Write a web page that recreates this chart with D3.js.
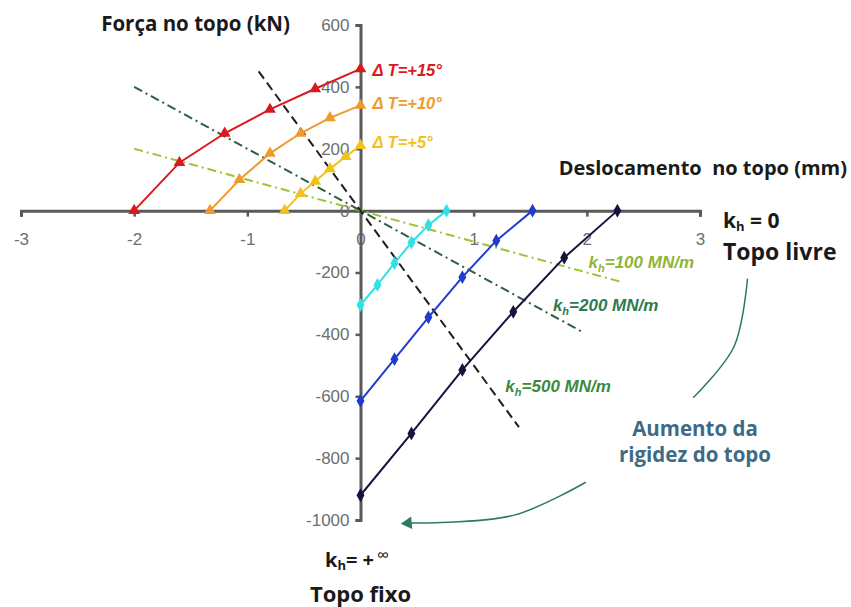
<!DOCTYPE html>
<html lang="pt">
<head>
<meta charset="UTF-8">
<title>Força no topo</title>
<script src="https://d3js.org/d3.v7.min.js"></script>
<style>
  body { margin: 0; background: #fff; }
  .tick text { font-family: "Liberation Sans", Arial, sans-serif; font-size: 17px; fill: #6e6e6e; }
  .lbl { font-family: "Open Sans", Lato, sans-serif; font-weight: bold; fill: #1a1a1a; }
</style>
</head>
<body>
<svg id="chart" width="851" height="607"></svg>
<script>
// temperature curves (displacement mm, force kN)
var dt15X = [-2, -1.6, -1.2, -0.8, -0.4, 0];
var dt15Y = [0, 155, 250, 327, 394, 458];
var dt10X = [-1.33, -1.07, -0.8, -0.53, -0.27, 0];
var dt10Y = [0, 100, 185, 250, 300, 340];
var dt5X = [-0.67, -0.53, -0.4, -0.27, -0.13, 0];
var dt5Y = [0, 55, 95, 135, 175, 210];
// top-fixed to top-free curves
var cyanX = [0, 0.15, 0.3, 0.45, 0.6, 0.76];
var cyanY = [-305, -240, -170, -103, -47, 0];
var blueX = [0, 0.3, 0.6, 0.9, 1.2, 1.52];
var blueY = [-615, -480, -345, -215, -97, 0];
var navyX = [0, 0.45, 0.9, 1.35, 1.8, 2.27];
var navyY = [-920, -720, -515, -327, -152, 0];
// spring lines: stiffness (kN/mm) and x range
var springK = [100, 200, 500];
var springFrom = [-2, -2, -0.9];
var springTo = [2.3, 1.95, 1.4];
var xTicks = [-3, -2, -1, 0, 1, 2, 3];
var yTicks = [600, 400, 200, 0, -200, -400, -600, -800, -1000];

var svg = d3.select("#chart");
var x = d3.scaleLinear().domain([-3, 3]).range([21, 700]);
var y = d3.scaleLinear().domain([-1000, 600]).range([520, 25]);

// axes
var fmt = function (d) { return String(d); };
var xAxis = svg.append("g")
    .attr("transform", "translate(0," + y(0) + ")")
    .call(d3.axisBottom(x).tickValues(xTicks).tickSize(6).tickPadding(16).tickFormat(fmt));
var yAxis = svg.append("g")
    .attr("transform", "translate(" + x(0) + ",0)")
    .call(d3.axisLeft(y).tickValues(yTicks).tickSize(5).tickPadding(6).tickFormat(fmt));
[xAxis, yAxis].forEach(function (a) {
    a.select(".domain").attr("stroke", "#5a5a5a").attr("stroke-width", 3);
    a.selectAll(".tick line").attr("stroke", "#5a5a5a").attr("stroke-width", 2.5);
});

// spring lines
var springStyle = [
    { color: "#9ac43a", dash: "9,4,2,4" },
    { color: "#2f5f3a", dash: "9,4,2,4" },
    { color: "#1e1e1e", dash: "9,5" }
];
springK.forEach(function (k, i) {
    var pts = [springFrom[i], springTo[i]].map(function (d) { return [d, -k * d]; });
    svg.append("path")
        .attr("d", d3.line().x(function (d) { return x(d[0]); }).y(function (d) { return y(d[1]); })(pts))
        .attr("fill", "none")
        .attr("stroke", springStyle[i].color)
        .attr("stroke-width", 2)
        .attr("stroke-dasharray", springStyle[i].dash);
});

var series = [
    { xs: dt15X, ys: dt15Y, color: "#d9191e", sym: d3.symbolTriangle },
    { xs: dt10X, ys: dt10Y, color: "#ef9a2c", sym: d3.symbolTriangle },
    { xs: dt5X, ys: dt5Y, color: "#f2c21c", sym: d3.symbolTriangle },
    { xs: cyanX, ys: cyanY, color: "#2fe0e6", sym: d3.symbolDiamond },
    { xs: blueX, ys: blueY, color: "#1f3ccf", sym: d3.symbolDiamond },
    { xs: navyX, ys: navyY, color: "#14143f", sym: d3.symbolDiamond }
];
var line = d3.line().x(function (d) { return x(d[0]); }).y(function (d) { return y(d[1]); });
series.forEach(function (s) {
    var pts = s.xs.map(function (v, i) { return [v, s.ys[i]]; });
    svg.append("path").attr("d", line(pts))
        .attr("fill", "none").attr("stroke", s.color).attr("stroke-width", 2);
    svg.selectAll(null).data(pts).enter().append("path")
        .attr("d", d3.symbol().type(s.sym).size(s.sym === d3.symbolTriangle ? 60 : 55))
        .attr("transform", function (d) { return "translate(" + x(d[0]) + "," + y(d[1]) + ")"; })
        .attr("fill", s.color);
});

// delta T labels
var dtLabels = [["+15°", 76, "#d9191e"], ["+10°", 109, "#ef9a2c"], ["+5°", 148, "#f2c21c"]];
dtLabels.forEach(function (d) {
    svg.append("text")
        .attr("x", x(0) + 12).attr("y", d[1])
        .style("font-family", "'Liberation Sans', Arial, sans-serif")
        .style("font-style", "italic").style("font-weight", "bold").style("font-size", "16.5px")
        .attr("fill", d[2])
        .text("Δ T=" + d[0]);
});

// spring labels (anchored in data space)
var kLabels = [["100", 2.015, -184, "#8fb534"], ["200", 1.70, -326, "#2e7a4e"], ["500", 1.28, -585, "#3a8a3e"]];
kLabels.forEach(function (d) {
    var t = svg.append("text")
        .attr("x", x(d[1])).attr("y", y(d[2]))
        .style("font-family", "'Liberation Sans', Arial, sans-serif")
        .style("font-style", "italic").style("font-weight", "bold").style("font-size", "17px")
        .attr("fill", d[3]);
    t.append("tspan").text("k");
    t.append("tspan").attr("dy", 4).style("font-size", "11px").text("h");
    t.append("tspan").attr("dy", -4).text("=" + d[0] + " MN/m");
});

// axis titles and annotations
svg.append("text").attr("class", "lbl").attr("x", 290).attr("y", 31)
    .attr("text-anchor", "end").style("font-size", "20.5px").text("Força no topo (kN)");
svg.append("text").attr("class", "lbl").attr("x", 847).attr("y", 175)
    .attr("text-anchor", "end").style("font-size", "20px").attr("xml:space", "preserve")
    .style("white-space", "pre").text("Deslocamento  no topo (mm)");

var k0 = svg.append("text").attr("class", "lbl").attr("x", 723).attr("y", 228).style("font-size", "21px");
k0.append("tspan").text("k");
k0.append("tspan").attr("dy", 3).style("font-size", "13px").text("h");
k0.append("tspan").attr("dy", -3).text(" = 0");
svg.append("text").attr("class", "lbl").attr("x", 723).attr("y", 260).style("font-size", "23px").text("Topo livre");

var kinf = svg.append("text").attr("class", "lbl").attr("x", 325).attr("y", 567).style("font-size", "20px");
kinf.append("tspan").text("k");
kinf.append("tspan").attr("dy", 3).style("font-size", "13px").text("h");
kinf.append("tspan").attr("dy", -3).text("= +");
kinf.append("tspan").attr("dy", -6).attr("dx", 3).style("font-weight", "normal").style("font-size", "17px").text("∞");
svg.append("text").attr("class", "lbl").attr("x", 310).attr("y", 602).style("font-size", "22px").text("Topo fixo");

svg.append("text").attr("class", "lbl").attr("x", 695).attr("y", 436)
    .attr("text-anchor", "middle").style("font-size", "20.5px").style("fill", "#3d6b85").text("Aumento da");
svg.append("text").attr("class", "lbl").attr("x", 695).attr("y", 462)
    .attr("text-anchor", "middle").style("font-size", "20.5px").style("fill", "#3d6b85").text("rigidez do topo");

// curved arrows (data-space anchors)
var arc1 = [[3.42, -220], [3.3, -440], [2.94, -605]];
var arc2 = [[1.99, -878], [1.35, -985], [0.42, -1010]];
var curve = d3.line().x(function (d) { return x(d[0]); }).y(function (d) { return y(d[1]); }).curve(d3.curveCatmullRom);
svg.append("path").attr("d", curve(arc1)).attr("fill", "none").attr("stroke", "#2e7a5a").attr("stroke-width", 1.5);
svg.append("path").attr("d", curve(arc2)).attr("fill", "none").attr("stroke", "#2e7a5a").attr("stroke-width", 1.5);
var tip = arc2[2];
svg.append("path")
    .attr("d", d3.symbol().type(d3.symbolTriangle).size(70))
    .attr("transform", "translate(" + x(tip[0]) + "," + y(tip[1]) + ") rotate(-95)")
    .attr("fill", "#2e7a5a");
</script>
</body>
</html>
